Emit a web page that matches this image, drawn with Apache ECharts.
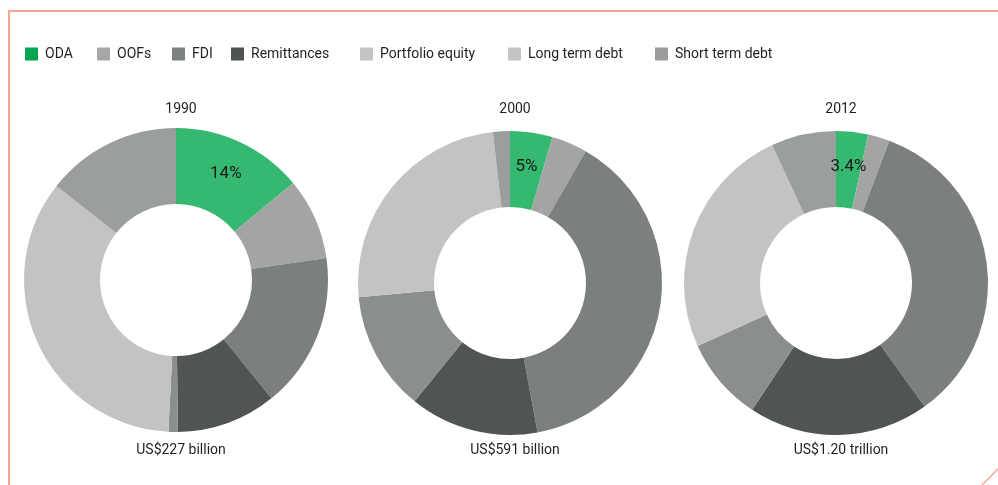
<!DOCTYPE html>
<html>
<head>
<meta charset="utf-8">
<script src="https://cdn.jsdelivr.net/npm/echarts@6/dist/echarts.min.js"></script>
<style>
  html, body { margin: 0; padding: 0; background: #fff; }
  #main { width: 998px; height: 485px; }
</style>
</head>
<body>
<div id="main"></div>
<script>
var categories = ['ODA', 'OOFs', 'FDI', 'Remittances', 'Portfolio equity', 'Long term debt', 'Short term debt'];
var years = ['1990', '2000', '2012'];
var totals = ['US$227 billion', 'US$591 billion', 'US$1.20 trillion'];
// share of total flows, %
var share1990 = [14, 8.7, 16.5, 10.6, 1.0, 34.8, 14.4];
var share2000 = [4.5, 3.8, 38.8, 13.7, 12.7, 24.7, 1.8];
var share2012 = [3.4, 2.3, 34.4, 19.2, 8.9, 24.9, 6.9];
var odaLabels = ['14%', '5%', '3.4%'];

var shares = [share1990, share2000, share2012];
var sliceColors = ['#35b870', '#a3a5a4', '#7b807f', '#505454', '#8b8e8e', '#c2c3c2', '#9b9e9e'];
var legendColors = ['#00a651', '#a6a7a6', '#7c807f', '#4f5352', '#c3c4c3', '#c3c4c3', '#9b9d9d'];
var legendLeft = [25, 97, 172, 231, 360, 508, 655];
var centers = [[176, 280], [510, 283], [836, 283]];

var dom = document.getElementById('main');
var chart = echarts.init(dom);

var font = 'Roboto, "Noto Sans", sans-serif';

var legends = categories.map(function (name, i) {
    return {
        left: legendLeft[i],
        top: 47,
        padding: 0,
        icon: 'rect',
        itemWidth: 13,
        itemHeight: 13,
        selectedMode: false,
        data: [{ name: name, itemStyle: { color: legendColors[i] } }],
        textStyle: { color: '#231f20', fontSize: 14, fontFamily: font, padding: [0, 0, 0, 2] }
    };
});

var titles = [];
years.forEach(function (y, k) {
    titles.push({
        text: y, left: centers[k][0], top: 97, textAlign: 'center',
        textStyle: { color: '#231f20', fontSize: 14, fontWeight: 'normal', fontFamily: font }
    });
    titles.push({
        text: totals[k], left: centers[k][0], top: 438, textAlign: 'center',
        textStyle: { color: '#231f20', fontSize: 14, fontWeight: 'normal', fontFamily: font }
    });
});

var series = shares.map(function (vals, k) {
    return {
        type: 'pie',
        center: centers[k],
        radius: [76, 152],
        startAngle: 90,
        clockwise: true,
        silent: true,
        animation: false,
        label: { show: false },
        labelLine: { show: false },
        data: vals.map(function (v, i) {
            var item = { name: categories[i], value: v, itemStyle: { color: sliceColors[i] } };
            if (i === 0) {
                item.label = {
                    show: true,
                    position: 'inside',
                    formatter: odaLabels[k],
                    color: '#1a1a1a',
                    fontSize: 17,
                    fontFamily: font
                };
            }
            return item;
        })
    };
});

var option = {
    backgroundColor: '#fff',
    title: titles,
    legend: legends,
    series: series,
    graphic: [
        {
            type: 'polyline',
            shape: { points: [[9, 485], [9, 11], [998, 11]] },
            style: { stroke: '#f4a690', lineWidth: 2, fill: null }
        },
        {
            type: 'line',
            shape: { x1: 982, y1: 485, x2: 998, y2: 469 },
            style: { stroke: '#f4a690', lineWidth: 1.5 }
        }
    ]
};
chart.setOption(option, true);
</script>
</body>
</html>
